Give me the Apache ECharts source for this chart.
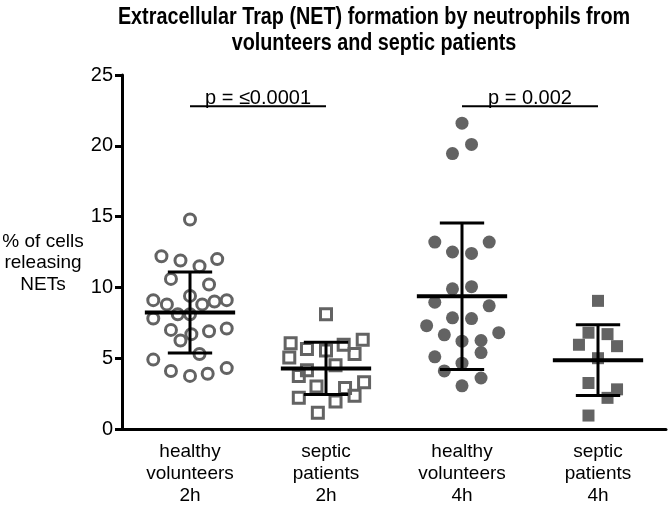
<!DOCTYPE html>
<html>
<head>
<meta charset="utf-8">
<script src="https://cdn.jsdelivr.net/npm/echarts@6/dist/echarts.min.js"></script>
<style>
html, body { margin: 0; padding: 0; background: #fff; }
#chart { width: 668px; height: 507px; }
</style>
</head>
<body>
<div id="chart"></div>
<script>
// categories (x axis labels)
var categories = ['healthy\nvolunteers\n2h', 'septic\npatients\n2h', 'healthy\nvolunteers\n4h', 'septic\npatients\n4h'];

// % of cells releasing NETs, one value per dot, with its horizontal scatter (in category units)
var hv2hValues = [14.8, 12.2, 11.9, 11.5, 12.0, 10.6, 10.2, 9.1, 8.8, 9.4, 8.8, 9.0, 9.1, 7.8, 8.1, 8.1, 7.0, 6.7, 6.9, 7.1, 6.25, 5.3, 4.9, 4.1, 3.75, 3.9, 4.3];
var hv2hJitter = [0, -0.21, -0.07, 0.07, 0.2, -0.14, 0.14, -0.27, -0.17, 0, 0.09, 0.18, 0.27, -0.27, -0.09, 0, -0.14, 0.01, 0.14, 0.27, -0.07, 0.07, -0.27, -0.14, 0, 0.13, 0.27];

var sp2hValues = [8.1, 6.05, 5.65, 5.55, 5.95, 6.3, 5.05, 4.5, 5.3, 3.75, 4.15, 3.0, 2.9, 3.3, 2.2, 1.95, 2.35, 1.15];
var sp2hJitter = [0, -0.26, -0.14, 0, 0.13, 0.27, -0.27, 0.07, 0.21, -0.2, -0.14, -0.07, 0.14, 0.28, -0.2, 0.07, 0.21, -0.06];

var hv4hValues = [21.6, 20.1, 19.45, 13.2, 13.2, 12.5, 12.4, 9.9, 10.05, 8.95, 8.7, 7.85, 7.8, 7.3, 6.65, 6.8, 6.2, 6.25, 5.1, 5.4, 4.65, 4.1, 3.6, 3.05];
var hv4hJitter = [0, 0.07, -0.07, -0.2, 0.2, -0.07, 0.07, -0.07, 0.07, -0.2, 0.2, -0.07, 0.07, -0.26, -0.13, 0.27, 0, 0.14, -0.2, 0.14, 0, -0.13, 0.14, 0];

var sp4hValues = [9.05, 6.8, 6.7, 5.95, 5.85, 5.0, 3.25, 2.8, 2.2, 0.95];
var sp4hJitter = [0, -0.07, 0.07, -0.14, 0.14, 0, -0.07, 0.14, 0.07, -0.07];

// mean and SD per group
var groupMeans = [8.23, 4.28, 9.37, 4.86];
var groupSD = [2.86, 1.85, 5.17, 2.5];

// p value brackets
var pLabels = ['p = \u22640.0001', 'p = 0.002'];
var pFrom = [1, 3];
var pTo = [2, 4];
var pLevel = [22.8, 22.8];

var yTicks = [0, 5, 10, 15, 20, 25];

var FONT = 'Liberation Sans, Arial, sans-serif';
var GREY = '#636363';

function points(values, jitter, pos) {
    return values.map(function (v, i) { return [pos + jitter[i], v]; });
}

var myChart = echarts.init(document.getElementById('chart'));

var option = {
    animation: false,
    graphic: [
        {
            // chart title, squeezed horizontally like the condensed original
            type: 'text', x: 374, y: 5, scaleX: 0.86,
            style: {
                text: 'Extracellular Trap (NET) formation by neutrophils from\nvolunteers and septic patients',
                font: 'bold 23px ' + FONT,
                lineHeight: 26, align: 'center', verticalAlign: 'top', fill: '#000'
            }
        },
        {
            // y axis title
            type: 'text', x: 43, y: 263,
            style: {
                text: '% of cells\nreleasing\nNETs',
                font: '19px ' + FONT, lineHeight: 21.5,
                align: 'center', verticalAlign: 'middle', fill: '#000'
            }
        }
    ],
    grid: { left: 122, right: 2, top: 75, bottom: 72 },
    xAxis: [
        {
            type: 'category',
            data: categories,
            boundaryGap: true,
            axisLine: { lineStyle: { color: '#000', width: 3 } },
            axisTick: { alignWithLabel: true, length: 7, lineStyle: { color: '#000', width: 3 } },
            axisLabel: { color: '#000', fontFamily: FONT, fontSize: 19, lineHeight: 22, margin: 12 },
            splitLine: { show: false }
        },
        {
            type: 'value',
            min: 0.5,
            max: 4.5,
            show: false
        }
    ],
    yAxis: {
        type: 'value',
        min: yTicks[0],
        max: yTicks[yTicks.length - 1],
        interval: 5,
        axisLine: { show: true, lineStyle: { color: '#000', width: 3 } },
        axisTick: { show: true, length: 7, lineStyle: { color: '#000', width: 3 } },
        axisLabel: { color: '#000', fontFamily: FONT, fontSize: 20, margin: 9 },
        splitLine: { show: false }
    },
    series: [
        {
            type: 'scatter', xAxisIndex: 1,
            symbol: 'circle', symbolSize: 11,
            itemStyle: { color: 'rgba(255,255,255,0)', borderColor: GREY, borderWidth: 3, opacity: 1 },
            data: points(hv2hValues, hv2hJitter, 1)
        },
        {
            type: 'scatter', xAxisIndex: 1,
            symbol: 'rect', symbolSize: 11,
            itemStyle: { color: 'rgba(255,255,255,0)', borderColor: GREY, borderWidth: 3, opacity: 1 },
            data: points(sp2hValues, sp2hJitter, 2)
        },
        {
            type: 'scatter', xAxisIndex: 1,
            symbol: 'circle', symbolSize: 13,
            itemStyle: { color: GREY, opacity: 1 },
            data: points(hv4hValues, hv4hJitter, 3)
        },
        {
            type: 'scatter', xAxisIndex: 1,
            symbol: 'rect', symbolSize: 12,
            itemStyle: { color: GREY, opacity: 1 },
            data: points(sp4hValues, sp4hJitter, 4)
        },
        {
            // mean +/- SD
            type: 'custom', xAxisIndex: 1, z: 5,
            data: groupMeans.map(function (m, i) { return [i + 1, m, groupSD[i]]; }),
            renderItem: function (params, api) {
                var x = api.value(0), m = api.value(1), s = api.value(2);
                var c = api.coord([x, m]);
                var hi = api.coord([x, m + s]);
                var lo = api.coord([x, m - s]);
                var halfMean = api.size([0.332, 0])[0];
                var halfCap = api.size([0.163, 0])[0];
                var st = { stroke: '#000', lineWidth: 3 };
                return {
                    type: 'group',
                    children: [
                        { type: 'line', shape: { x1: c[0] - halfMean, y1: c[1], x2: c[0] + halfMean, y2: c[1] }, style: { stroke: '#000', lineWidth: 4 } },
                        { type: 'line', shape: { x1: c[0], y1: hi[1], x2: c[0], y2: lo[1] }, style: st },
                        { type: 'line', shape: { x1: c[0] - halfCap, y1: hi[1], x2: c[0] + halfCap, y2: hi[1] }, style: st },
                        { type: 'line', shape: { x1: c[0] - halfCap, y1: lo[1], x2: c[0] + halfCap, y2: lo[1] }, style: st }
                    ]
                };
            }
        },
        {
            // significance brackets
            type: 'custom', xAxisIndex: 1, z: 5, clip: false,
            data: pLabels.map(function (t, i) { return [pFrom[i], pTo[i], pLevel[i], i]; }),
            renderItem: function (params, api) {
                var a = api.coord([api.value(0), api.value(2)]);
                var b = api.coord([api.value(1), api.value(2)]);
                return {
                    type: 'group',
                    children: [
                        { type: 'line', shape: { x1: a[0], y1: a[1], x2: b[0], y2: b[1] }, style: { stroke: '#000', lineWidth: 2 } },
                        {
                            type: 'text',
                            style: {
                                text: pLabels[api.value(3)], x: (a[0] + b[0]) / 2, y: a[1] + 2,
                                align: 'center', verticalAlign: 'bottom',
                                font: '20px ' + FONT, fill: '#000'
                            }
                        }
                    ]
                };
            }
        }
    ]
};

myChart.setOption(option);
window.addEventListener('resize', function () { myChart.resize(); });
</script>
</body>
</html>
